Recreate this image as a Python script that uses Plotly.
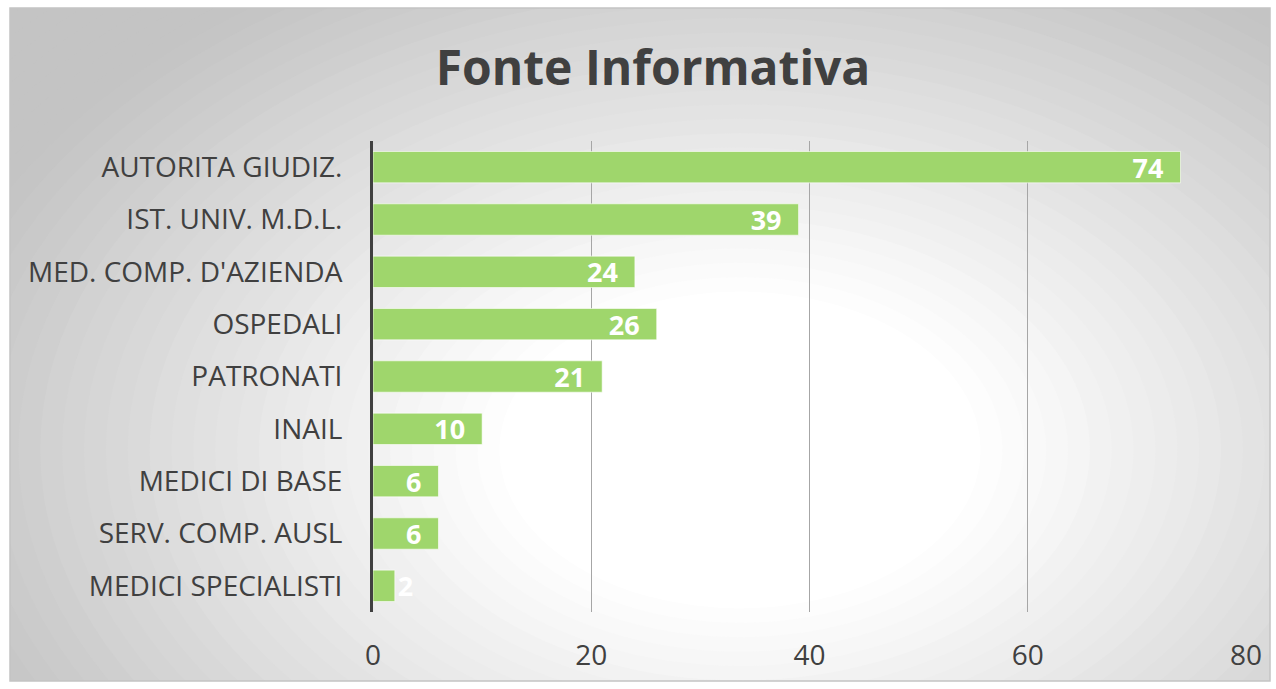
import plotly.graph_objects as go

# data
sources = ["AUTORITA GIUDIZ.", "IST. UNIV. M.D.L.", "MED. COMP. D'AZIENDA", "OSPEDALI",
           "PATRONATI", "INAIL", "MEDICI DI BASE", "SERV. COMP. AUSL", "MEDICI SPECIALISTI"]
counts = [74, 39, 24, 26, 21, 10, 6, 6, 2]
x_ticks = [0, 20, 40, 60, 80]

W, H = 1276, 689
L, R, T, B = 373, 30, 141, 77
PW, PH = W - L - R, H - T - B


def px_x(px):
    return (px - L) / PW


def px_y(py):
    return (H - B - py) / PH


# labels sit a little inside the bar end; the tiny bar gets its label outside
labels = [f"{v}\u00a0\u00a0" if v >= 5 else str(v) for v in counts]
positions = ["inside" if v >= 5 else "outside" for v in counts]
label_font = dict(family="Open Sans", size=27, color="white", weight="bold")

fig = go.Figure()

fig.add_trace(go.Bar(
    y=sources, x=counts, orientation="h",
    marker=dict(color="#9fd66c", line=dict(color="rgba(255,255,255,0.6)", width=1)),
    text=labels, textposition=positions, insidetextanchor="end", textangle=0,
    constraintext="none", cliponaxis=False,
    textfont=label_font, insidetextfont=label_font, outsidetextfont=label_font,
    width=0.6, hoverinfo="skip",
))

# radial grey gradient behind the chart (white centre -> grey edges)
shapes = []
cx, cy = 740, 450
steps = 60
for i in range(steps, 0, -1):
    t = 1.6 * i / steps
    rx, ry = 820 * t, 540 * t
    f = min(1.0, max(0.0, (t - 0.3) / 0.72))
    g = int(round(255 - (255 - 196) * f))
    shapes.append(dict(type="circle", xref="paper", yref="paper", layer="below",
                       x0=px_x(cx - rx), x1=px_x(cx + rx),
                       y0=px_y(cy + ry), y1=px_y(cy - ry),
                       fillcolor=f"rgb({g},{g},{g})", line=dict(width=0)))

# white outside the chart frame
bx0, bx1, by0, by1 = 10, 1270, 8, 681
for (a0, a1, b0, b1) in [(-50, bx0, -50, H + 50), (bx1, W + 50, -50, H + 50),
                         (-50, W + 50, -50, by0), (-50, W + 50, by1, H + 50)]:
    shapes.append(dict(type="rect", xref="paper", yref="paper", layer="below",
                       x0=px_x(a0), x1=px_x(a1), y0=px_y(b1), y1=px_y(b0),
                       fillcolor="white", line=dict(width=0)))
shapes.append(dict(type="rect", xref="paper", yref="paper", layer="below",
                   x0=px_x(bx0), x1=px_x(bx1), y0=px_y(by1), y1=px_y(by0),
                   fillcolor="rgba(0,0,0,0)", line=dict(color="#c4c4c4", width=1.5)))

fig.update_layout(
    width=W, height=H,
    margin=dict(l=L, r=R, t=T, b=B),
    paper_bgcolor="white", plot_bgcolor="rgba(0,0,0,0)",
    shapes=shapes,
    showlegend=False,
    title=dict(text="<b>Fonte Informativa</b>", x=653 / W, xref="container", xanchor="center",
               y=1 - 68 / H, yref="container", yanchor="middle",
               font=dict(family="Open Sans", size=48, color="#404040")),
    font=dict(family="Open Sans", color="#404040"),
)
fig.update_xaxes(range=[0, 80], tickvals=x_ticks, showgrid=True, gridcolor="#a6a6a6",
                 gridwidth=1.2, zeroline=False, showline=False,
                 tickfont=dict(size=28, color="#404040"), ticks="", ticklabelstandoff=24)
fig.update_yaxes(categoryorder="array", categoryarray=sources, autorange="reversed",
                 showline=True, linecolor="#404040", linewidth=3, showgrid=False,
                 tickfont=dict(size=28, color="#404040"), ticks="", ticklabelstandoff=22)

fig.write_html("out.html", config={"displayModeBar": False},
               post_script="document.body.style.margin='0';")
